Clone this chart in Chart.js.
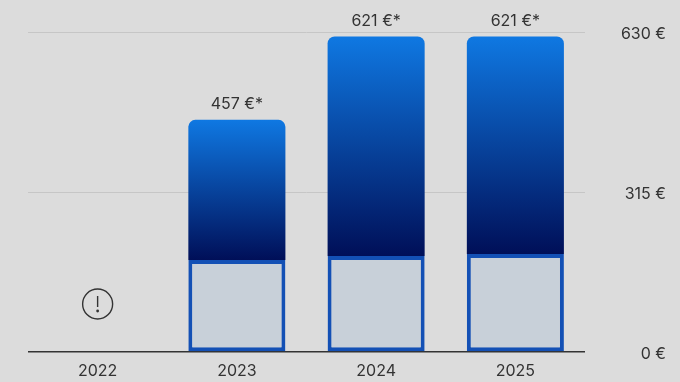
<!DOCTYPE html>
<html>
<head>
<meta charset="utf-8">
<script src="https://cdn.jsdelivr.net/npm/chart.js@4"></script>
<style>
  html, body { margin: 0; padding: 0; background: #dcdcdc; }
  #wrap { width: 680px; height: 382px; }
</style>
</head>
<body>
<div id="wrap"><canvas id="chartValores"></canvas></div>
<script>
const anos = ['2022', '2023', '2024', '2025'];
const valorBase = [null, 181, 189, 193];
const valorTopo = [null, 276, 432, 428];
const rotulos = ['', '457 €*', '621 €*', '621 €*'];
const ticksY = [0, 315, 630];
const anoSemDados = '2022';

const fonte = '"Inter", sans-serif';
const corTexto = '#333333';

// Degradê de cada barra, do topo até o começo do segmento de baixo
function degrade(context) {
    const chart = context.chart;
    const i = context.dataIndex;
    if (!chart.chartArea || valorTopo[i] === null) return '#0f74dd';
    const y = chart.scales.y;
    const topo = y.getPixelForValue(valorBase[i] + valorTopo[i]);
    const fim = y.getPixelForValue(valorBase[i]);
    const g = chart.ctx.createLinearGradient(0, topo, 0, fim);
    g.addColorStop(0, '#0f78e2');
    g.addColorStop(1, '#000f58');
    return g;
}

// Rótulos acima das barras e o ícone de aviso
const extras = {
    id: 'extras',
    afterDatasetsDraw(chart) {
        const ctx = chart.ctx;
        const barras = chart.getDatasetMeta(1).data;
        ctx.save();
        ctx.font = '16px ' + fonte;
        ctx.fillStyle = corTexto;
        ctx.textAlign = 'center';
        ctx.textBaseline = 'alphabetic';
        rotulos.forEach((r, i) => {
            if (r) ctx.fillText(r, barras[i].x, barras[i].y - 11);
        });

        const cx = chart.scales.x.getPixelForValue(anos.indexOf(anoSemDados));
        const cy = chart.scales.y.getPixelForValue(0) - 48;
        ctx.strokeStyle = corTexto;
        ctx.lineWidth = 1.4;
        ctx.beginPath();
        ctx.arc(cx, cy, 15, 0, Math.PI * 2);
        ctx.stroke();
        ctx.beginPath();
        ctx.moveTo(cx, cy - 8);
        ctx.lineTo(cx, cy + 3);
        ctx.stroke();
        ctx.beginPath();
        ctx.arc(cx, cy + 7, 1.4, 0, Math.PI * 2);
        ctx.fillStyle = corTexto;
        ctx.fill();
        ctx.restore();
    }
};

new Chart(document.getElementById('chartValores'), {
    type: 'bar',
    data: {
        labels: anos,
        datasets: [{
            data: valorBase,
            backgroundColor: '#c8d0d9',
            borderColor: '#1350b5',
            borderWidth: 4,
            borderSkipped: false,
            barPercentage: 0.697,
            categoryPercentage: 1
        }, {
            data: valorTopo,
            backgroundColor: degrade,
            borderWidth: 0,
            borderRadius: { topLeft: 7, topRight: 7, bottomLeft: 0, bottomRight: 0 },
            borderSkipped: false,
            barPercentage: 0.697,
            categoryPercentage: 1
        }]
    },
    options: {
        responsive: true,
        maintainAspectRatio: false,
        animation: false,
        layout: { padding: { left: 28, right: 14, top: 32, bottom: 0 } },
        plugins: {
            legend: { display: false },
            tooltip: { enabled: false }
        },
        scales: {
            x: {
                stacked: true,
                grid: { display: false },
                border: { display: false },
                ticks: {
                    color: corTexto,
                    font: { family: fonte, size: 16 },
                    padding: 2,
                    maxRotation: 0
                },
                afterFit(scale) { scale.height = 30; }
            },
            y: {
                position: 'right',
                stacked: true,
                min: 0,
                max: 630,
                afterBuildTicks(scale) {
                    scale.ticks = ticksY.map(v => ({ value: v }));
                },
                afterFit(scale) { scale.width = 81; },
                grid: {
                    drawTicks: false,
                    lineWidth: c => c.tick && c.tick.value === 0 ? 1.5 : 1,
                    color: c => c.tick && c.tick.value === 0 ? '#333333' : '#c6c6c6'
                },
                border: { display: false },
                ticks: {
                    color: corTexto,
                    font: { family: fonte, size: 16 },
                    crossAlign: 'far',
                    labelOffset: 2,
                    callback: v => v + ' €'
                }
            }
        }
    },
    plugins: [extras]
});
</script>
</body>
</html>
